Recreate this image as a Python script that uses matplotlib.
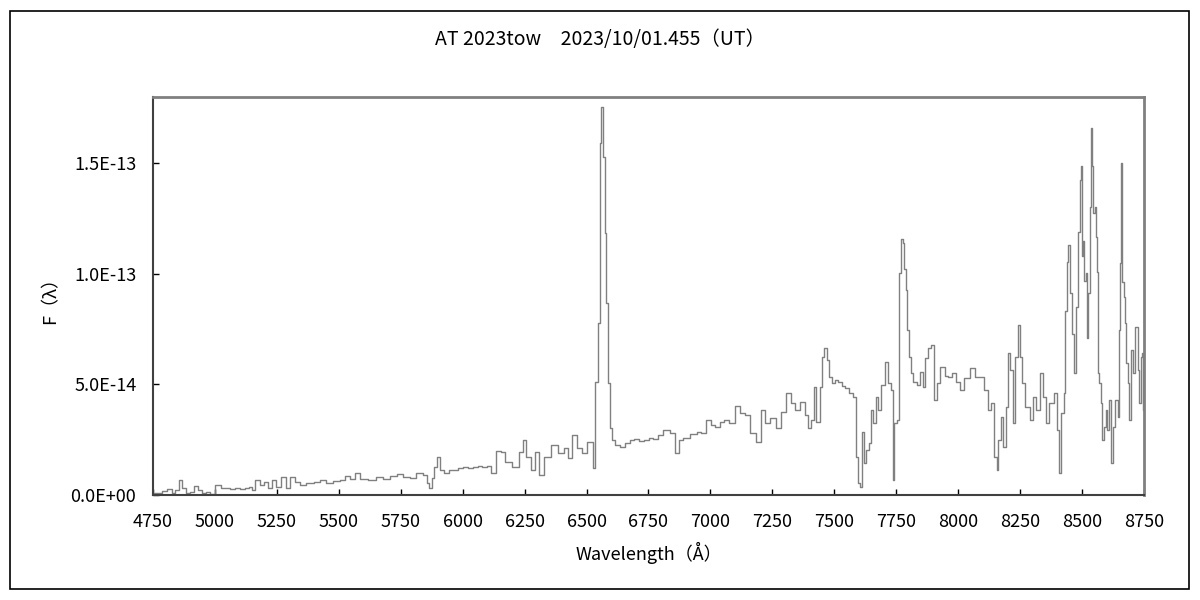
"""Spectrum of AT 2023tow, 2023/10/01.455 UT."""
import matplotlib
matplotlib.use("Agg")
import matplotlib.pyplot as plt
from matplotlib.patches import Rectangle
from matplotlib.ticker import FuncFormatter

plt.rcParams['font.family'] = ['Noto Sans CJK JP', 'DejaVu Sans']

# wavelength (Angstrom) and flux (units of 1e-14)
wave = [
    4750, 4758, 4778, 4798, 4819, 4831, 4847, 4859, 4875, 4891,
    4907, 4924, 4940, 4952, 4972, 4992, 5012, 5033, 5050, 5073,
    5090, 5113, 5130, 5142, 5154, 5170, 5190, 5206, 5222, 5238,
    5255, 5275, 5295, 5315, 5335, 5355, 5384, 5412, 5436, 5464,
    5493, 5517, 5537, 5557, 5573, 5598, 5638, 5666, 5694, 5719,
    5747, 5775, 5799, 5828, 5848, 5860, 5872, 5880, 5892, 5904,
    5916, 5937, 5949, 5970, 5989, 6010, 6030, 6050, 6070, 6090,
    6110, 6122, 6143, 6163, 6179, 6219, 6239, 6247, 6264, 6284,
    6300, 6320, 6340, 6373, 6393, 6421, 6433, 6453, 6473, 6494,
    6506, 6526, 6530, 6542, 6550, 6558, 6562, 6570, 6578, 6582,
    6590, 6599, 6607, 6623, 6647, 6660, 6687, 6700, 6720, 6744,
    6760, 6780, 6796, 6825, 6849, 6869, 6877, 6905, 6930, 6958,
    6970, 6998, 7010, 7030, 7045, 7067, 7087, 7111, 7131, 7152,
    7168, 7196, 7212, 7228, 7253, 7273, 7293, 7317, 7333, 7349,
    7374, 7390, 7398, 7414, 7422, 7434, 7450, 7454, 7466, 7474,
    7483, 7495, 7510, 7523, 7537, 7551, 7571, 7583, 7592, 7600,
    7608, 7612, 7624, 7636, 7648, 7652, 7664, 7672, 7684, 7697,
    7709, 7721, 7733, 7737, 7749, 7757, 7765, 7773, 7781, 7785,
    7793, 7797, 7805, 7813, 7826, 7838, 7854, 7862, 7874, 7886,
    7898, 7910, 7918, 7939, 7955, 7967, 7985, 7999, 8015, 8036,
    8056, 8076, 8096, 8116, 8128, 8140, 8153, 8157, 8165, 8177,
    8189, 8197, 8205, 8217, 8225, 8237, 8245, 8253, 8261, 8278,
    8298, 8310, 8322, 8338, 8350, 8358, 8379, 8395, 8403, 8411,
    8423, 8431, 8435, 8443, 8447, 8455, 8463, 8471, 8479, 8487,
    8495, 8499, 8503, 8507, 8511, 8519, 8523, 8527, 8535, 8540,
    8544, 8548, 8556, 8560, 8564, 8568, 8572, 8580, 8584, 8592,
    8600, 8604, 8613, 8621, 8629, 8641, 8649, 8653, 8657, 8661,
    8665, 8673, 8677, 8681, 8689, 8693, 8701, 8709, 8722, 8726,
    8734, 8742, 8746, 8750,
]
flux = [
    0.00, 0.08, 0.10, 0.20, 0.26, 0.08, 0.23, 0.68, 0.30, 0.08,
    0.15, 0.41, 0.23, 0.10, 0.15, 0.05, 0.45, 0.30, 0.33, 0.26,
    0.30, 0.26, 0.32, 0.35, 0.23, 0.68, 0.45, 0.60, 0.30, 0.68,
    0.35, 0.80, 0.30, 0.80, 0.60, 0.45, 0.53, 0.60, 0.68, 0.53,
    0.65, 0.68, 0.86, 0.71, 0.98, 0.71, 0.68, 0.80, 0.74, 0.86,
    0.95, 0.83, 0.75, 1.00, 0.90, 0.53, 0.30, 0.75, 1.28, 1.73,
    1.13, 1.00, 1.13, 1.15, 1.20, 1.25, 1.20, 1.25, 1.32, 1.25,
    1.30, 1.00, 2.00, 1.96, 1.50, 1.28, 1.96, 2.49, 1.73, 1.13,
    1.96, 0.90, 1.73, 2.26, 1.89, 2.11, 1.66, 2.71, 2.11, 1.89,
    2.41, 2.41, 1.20, 5.13, 7.77, 15.90, 17.57, 15.30, 11.85, 8.70,
    5.06, 3.03, 2.49, 2.26, 2.19, 2.35, 2.49, 2.55, 2.45, 2.49,
    2.60, 2.55, 2.71, 2.94, 2.79, 1.89, 2.49, 2.60, 2.75, 2.86,
    2.80, 3.39, 3.15, 3.09, 3.30, 3.39, 3.24, 4.03, 3.70, 3.62,
    2.79, 2.41, 3.85, 3.24, 3.47, 3.02, 3.77, 4.60, 4.15, 3.85,
    4.22, 3.62, 3.02, 3.39, 4.90, 3.32, 4.90, 6.26, 6.64, 6.10,
    5.35, 5.05, 5.20, 5.13, 4.95, 4.83, 4.60, 4.45, 1.73, 0.53,
    0.38, 2.86, 1.43, 2.04, 2.34, 3.85, 3.24, 4.45, 3.85, 4.98,
    6.03, 5.05, 4.75, 0.68, 3.24, 3.40, 10.03, 11.60, 11.40, 10.20,
    9.28, 7.47, 6.26, 5.50, 5.13, 4.98, 5.58, 4.90, 6.18, 6.64,
    6.79, 4.30, 5.05, 5.80, 5.40, 5.35, 5.50, 5.13, 4.75, 5.28,
    5.73, 5.35, 5.35, 4.75, 3.85, 4.15, 1.73, 1.13, 2.49, 3.54,
    2.19, 4.00, 6.41, 5.66, 3.24, 6.26, 7.69, 6.26, 5.05, 4.00,
    3.39, 4.45, 3.85, 5.50, 4.45, 3.24, 4.15, 4.60, 2.94, 0.98,
    3.70, 4.60, 8.30, 10.56, 11.30, 9.13, 7.30, 5.50, 8.52, 11.90,
    14.25, 14.90, 10.80, 11.50, 9.70, 10.03, 7.09, 9.13, 13.04, 16.60,
    14.86, 12.75, 13.04, 11.69, 10.10, 5.50, 5.05, 4.15, 2.49, 3.09,
    3.85, 2.94, 4.30, 1.43, 3.09, 4.30, 3.54, 7.47, 10.50, 15.00,
    9.65, 8.97, 7.77, 5.96, 5.05, 3.39, 6.56, 5.50, 7.62, 5.66,
    4.15, 6.26, 6.41, 3.85,
]

x_ticks = list(range(4750, 8751, 250))
y_ticks = [0.0, 5.0e-14, 1.0e-13, 1.5e-13]

fig = plt.figure(figsize=(12, 6), dpi=100)
fig.patches.append(Rectangle((10 / 1200, 11 / 600), 1179 / 1200, 578 / 600,
                             transform=fig.transFigure, fill=False,
                             edgecolor='black', linewidth=1.2))

ax = fig.add_axes([0.1275, 0.175, 0.8258, 0.6633])
ax.plot(wave, [f * 1e-14 for f in flux], color='#808080', linewidth=1.0,
        drawstyle='steps-mid')

ax.set_xlim(4750, 8750)
ax.set_ylim(0, 1.8e-13)
ax.set_xticks(x_ticks)
ax.set_yticks(y_ticks)
ax.yaxis.set_major_formatter(FuncFormatter(lambda v, p: f"{v:.1E}"))
ax.tick_params(direction='in', length=4, width=1, labelsize=13,
               colors='black')
ax.tick_params(axis='x', pad=13)
ax.tick_params(axis='y', pad=12)

for side in ('top', 'right'):
    ax.spines[side].set_color('#808080')
    ax.spines[side].set_linewidth(2)
for side in ('left', 'bottom'):
    ax.spines[side].set_color('#404040')
    ax.spines[side].set_linewidth(1.5)

ax.set_xlabel("Wavelength（Å）", fontsize=13, labelpad=8)
ax.set_ylabel("F（λ）", fontsize=13, labelpad=8)
fig.text(0.5, 0.935, "AT 2023tow　2023/10/01.455（UT）", ha='center',
         va='center', fontsize=14)

plt.savefig("out.png", dpi=100)
